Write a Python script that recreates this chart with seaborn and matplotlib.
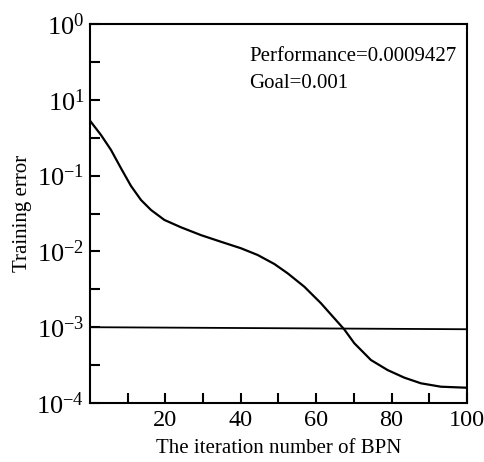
import numpy as np
import pandas as pd
import matplotlib
matplotlib.use("Agg")
import matplotlib.pyplot as plt
from matplotlib.ticker import FixedLocator, NullFormatter
import seaborn as sns

# training curve
iteration = [0, 2.92, 5.57, 8.22, 10.87, 13.52, 16.18, 19.73, 24.13, 29.43, 34.74,
             40.04, 44.47, 48.90, 52.43, 56.85, 61.26, 64.81, 67.46, 70.11, 74.52,
             78.94, 83.37, 87.77, 93.08, 100]
train_err = [0.530, 0.343, 0.218, 0.125, 0.0730, 0.0477, 0.0352, 0.0260, 0.0208,
             0.0164, 0.0134, 0.0110, 0.00897, 0.00682, 0.00514, 0.00342, 0.00207,
             0.00131, 0.000933, 0.000614, 0.000369, 0.000272, 0.000216, 0.000182,
             0.000164, 0.000159]

goal_x = [0, 100]
goal_y = [0.001, 0.00094]

y_tick_pos = [1e1, 1e0, 1e-1, 1e-2, 1e-3, 1e-4]
y_tick_lab = ["$10^{0}$", "$10^{1}$", "$10^{-1}$", "$10^{-2}$", "$10^{-3}$", "$10^{-4}$"]
x_tick_pos = [20, 40, 60, 80, 100]

sns.set_theme(style="white")
plt.rcParams["font.family"] = ["Liberation Serif", "DejaVu Serif"]
plt.rcParams["mathtext.fontset"] = "custom"
plt.rcParams["mathtext.rm"] = "Liberation Serif"
plt.rcParams["mathtext.it"] = "Liberation Serif:italic"

df = pd.DataFrame({"iteration": iteration, "error": train_err})
goal = pd.DataFrame({"iteration": goal_x, "error": goal_y})

fig = plt.figure(figsize=(4.85, 4.62), dpi=100)
ax = fig.add_axes([90 / 485, 1 - 403 / 462, 377 / 485, 379 / 462])

sns.lineplot(data=df, x="iteration", y="error", color="black", lw=1.6, ax=ax)
sns.lineplot(data=goal, x="iteration", y="error", color="black", lw=1.3, ax=ax)

ax.set_yscale("log")
ax.set_xlim(0, 100)
ax.set_ylim(1e-4, 1e1)

ax.yaxis.set_major_locator(FixedLocator(y_tick_pos))
ax.set_yticklabels(y_tick_lab)
ax.yaxis.set_minor_locator(FixedLocator([10 ** (k + 0.5) for k in range(-4, 1)]))
ax.yaxis.set_minor_formatter(NullFormatter())

ax.xaxis.set_major_locator(FixedLocator(x_tick_pos))
ax.xaxis.set_minor_locator(FixedLocator([10, 30, 50, 70, 90]))

ax.tick_params(which="both", direction="in", length=7, width=1.5, color="black",
               left=True, bottom=True, top=False, right=False)
ax.tick_params(axis="x", which="major", labelsize=17.5, pad=5, labelcolor="black")
ax.tick_params(axis="y", which="major", labelsize=19, pad=4, labelcolor="black")

for sp in ax.spines.values():
    sp.set_linewidth(1.5)
    sp.set_color("black")

ax.set_xlabel("The iteration number of BPN", fontsize=15, labelpad=6, color="black")
ax.set_ylabel("Training error", fontsize=15, labelpad=3, color="black")

ax.text(0.422, 0.915, "Performance=0.0009427", transform=ax.transAxes, fontsize=15,
        va="center", ha="left", color="black")
ax.text(0.422, 0.842, "Goal=0.001", transform=ax.transAxes, fontsize=15,
        va="center", ha="left", color="black")

fig.savefig("out.png", dpi=100)
